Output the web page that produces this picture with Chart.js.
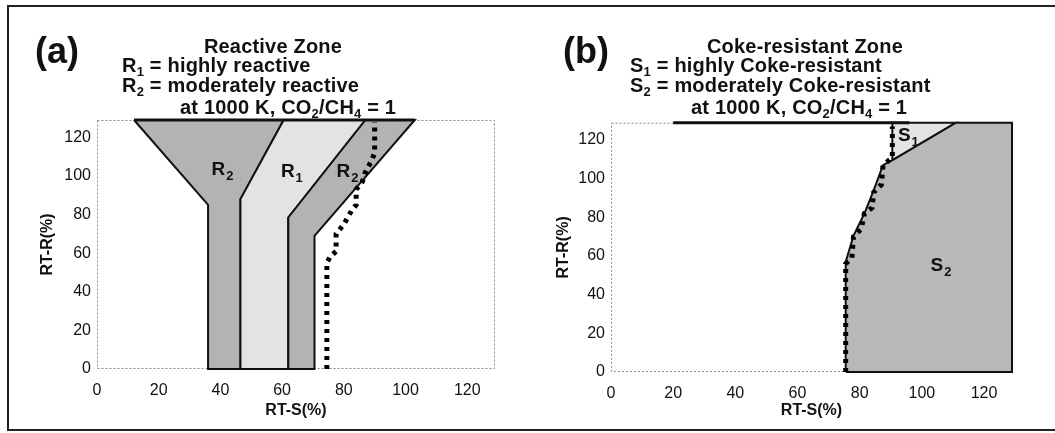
<!DOCTYPE html>
<html>
<head>
<meta charset="utf-8">
<title>Reactive and Coke-resistant Zones</title>
<script src="https://cdn.jsdelivr.net/npm/chart.js"></script>
<style>
  body { margin: 0; background: #fff; font-family: "Liberation Sans", Arial, sans-serif; color: #111; }
  #page { position: relative; width: 1055px; height: 433px; overflow: hidden; }
  #frame { position: absolute; left: 7px; top: 5px; width: 1060px; height: 426px; border: 2px solid #222; box-sizing: border-box; }
  canvas { position: absolute; top: 0; }
  .t { position: absolute; font-weight: bold; font-size: 20px; line-height: 20px; white-space: nowrap; letter-spacing: 0.2px; }
  .t sub { font-size: 13px; vertical-align: -4px; line-height: 0; }
  .tag { position: absolute; font-weight: bold; font-size: 36px; line-height: 36px; }
</style>
</head>
<body>
<div id="page">
  <div id="frame"></div>
  <canvas id="panelA" width="527" height="433" style="left:0"></canvas>
  <canvas id="panelB" width="528" height="433" style="left:527px"></canvas>

  <div class="tag" style="left:35px; top:33px">(a)</div>
  <div class="t" style="left:273px; top:36px; transform:translateX(-50%)">Reactive Zone</div>
  <div class="t" style="left:122px; top:55px">R<sub>1</sub> = highly reactive</div>
  <div class="t" style="left:122px; top:75px">R<sub>2</sub> = moderately reactive</div>
  <div class="t" style="left:180px; top:97px">at 1000 K, CO<sub>2</sub>/CH<sub>4</sub> = 1</div>

  <div class="tag" style="left:563px; top:33px">(b)</div>
  <div class="t" style="left:805px; top:36px; transform:translateX(-50%)">Coke-resistant Zone</div>
  <div class="t" style="left:630px; top:55px">S<sub>1</sub> = highly Coke-resistant</div>
  <div class="t" style="left:630px; top:75px">S<sub>2</sub> = moderately Coke-resistant</div>
  <div class="t" style="left:691px; top:97px">at 1000 K, CO<sub>2</sub>/CH<sub>4</sub> = 1</div>
</div>

<script>
  // axis range and ticks (both panels)
  const axisMax = 129;
  const tickValues = [0, 20, 40, 60, 80, 100, 120];

  // panel (a): reactive zone polygons, [RT-S, RT-R]
  const r2LeftZone = [[12, 129], [36, 85], [36, 0], [46.5, 0], [46.5, 88], [60.5, 129], [12, 129]];
  const r1Zone = [[46.5, 0], [46.5, 88], [60.5, 129], [87, 129], [62, 78.5], [62, 0], [46.5, 0]];
  const r2RightZone = [[62, 0], [62, 78.5], [87, 129], [103, 129], [70.5, 69], [70.5, 0], [62, 0]];
  const reactiveTopEdge = [[12, 129], [103, 129]];
  const reactiveBoundary = [[74.5, 0], [74.5, 55], [75.5, 58], [77.5, 61], [77.5, 70], [80, 75], [82.5, 82],
                            [84, 85], [84, 93], [86, 97], [87, 102], [89, 108], [90, 112], [90, 128]];
  const reactiveLabels = [['R', '2', 40.5, 104], ['R', '1', 63, 103], ['R', '2', 81, 103]];

  // panel (b): coke-resistant zone polygons
  const s2Zone = [[75.5, 0], [75.5, 57], [78, 70.5], [81.5, 82], [84.5, 94], [87.5, 107], [91, 110],
                  [111, 129], [129, 129], [129, 0], [75.5, 0]];
  const s1Zone = [[90.5, 110], [90.5, 129], [111, 129], [91, 110], [90.5, 110]];
  const cokeTopEdge = [[20, 129], [96, 129]];
  const cokeBoundary = [[75.5, 0], [75.5, 56], [77.5, 59], [78, 70], [80.5, 74], [81.5, 82], [84, 85],
                        [84.5, 93], [87, 97], [87.5, 107], [90.5, 111], [90.5, 127]];
  const cokeLabels = [['S', '1', 95.5, 123], ['S', '2', 106, 56]];

  const FONT = '"Liberation Sans", Arial, sans-serif';
  const toXY = pts => pts.map(p => ({ x: p[0], y: p[1] }));

  const zone = (pts, color, order) => ({
    data: toXY(pts), showLine: true, fill: 'shape', backgroundColor: color,
    borderColor: '#111', borderWidth: 2, pointRadius: 0, order: order, clip: 3
  });
  const edge = (pts, order) => ({
    data: toXY(pts), showLine: true, fill: false, borderColor: '#111',
    borderWidth: 3, pointRadius: 0, order: order, clip: 4
  });
  const dotted = (pts, order) => ({
    data: toXY(pts), showLine: true, fill: false, borderColor: '#000', borderWidth: 5,
    borderDash: [4, 5], borderCapStyle: 'butt', pointRadius: 0, order: order, clip: 4
  });

  // dotted frame around the plot area
  const framePlugin = {
    id: 'plotFrame',
    beforeDatasetsDraw(chart) {
      const { ctx, chartArea: a } = chart;
      ctx.save();
      ctx.strokeStyle = '#8a8a8a';
      ctx.lineWidth = 1;
      ctx.setLineDash([2, 2]);
      ctx.strokeRect(a.left + 0.5, a.top + 0.5, a.width - 1, a.height - 1);
      ctx.restore();
    }
  };

  // R1 / R2 / S1 / S2 labels with subscripts
  const zoneLabelPlugin = {
    id: 'zoneLabels',
    afterDatasetsDraw(chart, args, opts) {
      const { ctx } = chart;
      const xs = chart.scales.x, ys = chart.scales.y;
      ctx.save();
      ctx.fillStyle = '#111';
      ctx.textBaseline = 'alphabetic';
      (opts.items || []).forEach(([main, sub, vx, vy]) => {
        ctx.font = 'bold 19px ' + FONT;
        const w1 = ctx.measureText(main).width;
        ctx.font = 'bold 13px ' + FONT;
        const w2 = ctx.measureText(sub).width;
        const px = xs.getPixelForValue(vx) - (w1 + w2) / 2;
        const py = ys.getPixelForValue(vy) + 7;
        ctx.font = 'bold 19px ' + FONT;
        ctx.fillText(main, px, py);
        ctx.font = 'bold 13px ' + FONT;
        ctx.fillText(sub, px + w1 + 1, py + 5);
      });
      ctx.restore();
    }
  };

  function makePanel(id, pad, yWidth, xHeight, datasets, labels) {
    const tickFont = { family: FONT, size: 16 };
    const titleFont = { family: FONT, size: 16, weight: 'bold' };
    const setTicks = s => { s.ticks = tickValues.map(v => ({ value: v })); };
    return new Chart(document.getElementById(id), {
      type: 'scatter',
      data: { datasets: datasets },
      options: {
        responsive: false,
        animation: false,
        layout: { padding: pad },
        plugins: {
          legend: { display: false },
          tooltip: { enabled: false },
          zoneLabels: { items: labels }
        },
        scales: {
          x: {
            type: 'linear', min: 0, max: axisMax,
            grid: { display: false, drawTicks: false },
            border: { display: false },
            ticks: { padding: 12, color: '#111', font: tickFont, maxRotation: 0, autoSkip: false },
            title: { display: true, text: 'RT-S(%)', color: '#111', font: titleFont, padding: 4 },
            afterBuildTicks: setTicks,
            afterFit: s => { s.height = xHeight; }
          },
          y: {
            type: 'linear', min: 0, max: axisMax,
            grid: { display: false, drawTicks: false },
            border: { display: false },
            ticks: { padding: 6, color: '#111', font: tickFont, autoSkip: false },
            title: { display: true, text: 'RT-R(%)', color: '#111', font: titleFont, padding: 4 },
            afterBuildTicks: setTicks,
            afterFit: s => { s.width = yWidth; }
          }
        }
      },
      plugins: [framePlugin, zoneLabelPlugin]
    });
  }

  makePanel('panelA', { left: 34.4, top: 120, right: 32, bottom: 8.4 }, 62.6, 55.6, [
    dotted(reactiveBoundary, 0),
    edge(reactiveTopEdge, 1),
    zone(r2RightZone, '#b3b3b3', 2),
    zone(r1Zone, '#e3e3e3', 3),
    zone(r2LeftZone, '#b3b3b3', 4)
  ], reactiveLabels);

  makePanel('panelB', { left: 23.4, top: 122.7, right: 43, bottom: 8.4 }, 60.6, 52.6, [
    dotted(cokeBoundary, 0),
    edge(cokeTopEdge, 1),
    zone(s1Zone, '#e3e3e3', 3),
    zone(s2Zone, '#b8b8b8', 2)
  ], cokeLabels);
</script>
</body>
</html>
